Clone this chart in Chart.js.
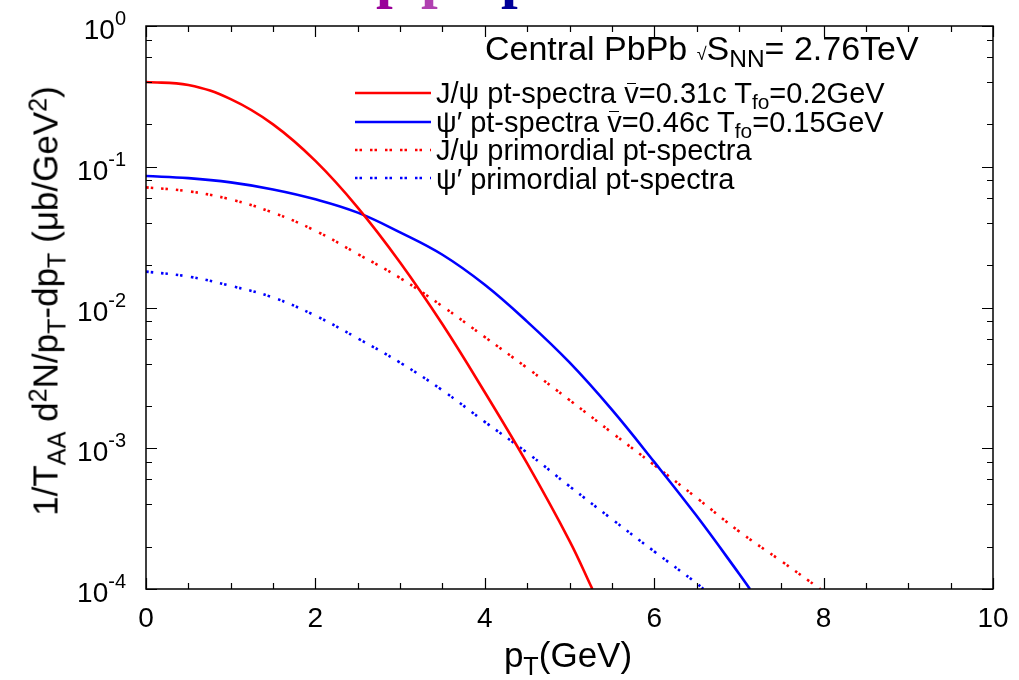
<!DOCTYPE html>
<html>
<head>
<meta charset="utf-8">
<script src="https://cdn.jsdelivr.net/npm/chart.js@4.4.1/dist/chart.umd.min.js"></script>
<style>
body { margin: 0; background: #fff; }
#wrap { position: relative; width: 1019px; height: 680px; overflow: hidden;
        font-family: "Liberation Sans", Arial, sans-serif; color: #000; }
#wrap canvas { position: absolute; left: 0; top: 0; }
.t { position: absolute; white-space: nowrap; line-height: 1; }
.sub { font-size: 0.72em; position: relative; top: 0.3em; }
.sup { font-size: 0.72em; position: relative; top: -0.45em; }
.ov { position: relative; }
.ov::before { content: ''; position: absolute; left: 0.08em; right: 0.08em; top: 0.2em;
              border-top: 1.5px solid #000; }
</style>
</head>
<body>
<div id="wrap">
  <canvas id="grafico" width="1019" height="680"></canvas>

  <div class="t" id="titulo" style="left:485px; top:31px; font-size:34px;">Central PbPb <span style="font-size:18px;">√</span>S<span class="sub">NN</span>= 2.76TeV</div>

  <div class="t" style="left:436px; top:79px; font-size:29px;">J/ψ pt-spectra <span class="ov">v</span>=0.31c T<span class="sub">fo</span>=0.2GeV</div>
  <div class="t" style="left:436px; top:107.5px; font-size:29px;">ψ′ pt-spectra <span class="ov">v</span>=0.46c T<span class="sub">fo</span>=0.15GeV</div>
  <div class="t" style="left:436px; top:136px; font-size:29px;">J/ψ primordial pt-spectra</div>
  <div class="t" style="left:436px; top:164.5px; font-size:29px;">ψ′ primordial pt-spectra</div>

  <div class="t" id="ylabel" style="left:45px; top:301px; font-size:35px; transform: translate(-50%,-50%) rotate(-90deg);">1/T<span class="sub">AA</span> d<span class="sup">2</span>N/p<span class="sub">T</span>-dp<span class="sub">T</span> (μb/GeV<span class="sup">2</span>)</div>

  <div class="t" id="xlabel" style="left:568px; top:637px; font-size:35px; transform: translateX(-50%);">p<span class="sub">T</span>(GeV)</div>
</div>

<script>
// ============================================================
//  DADOS
// ============================================================

// J/psi com fluxo (linha vermelha cheia)
const ptJpsi    = [0, 0.5, 1, 1.5, 2, 2.5, 3, 3.5, 4, 4.5, 5, 5.27];
const jpsiFluxo = [0.400, 0.381, 0.302, 0.200, 0.110, 0.0513, 0.0209, 0.0076, 0.0025, 0.00078, 0.00022, 0.0001];

// psi' com fluxo (linha azul cheia)
const ptPsi2    = [0, 0.5, 1, 1.5, 2, 2.5, 3, 3.5, 4, 4.5, 5, 5.5, 6, 6.5, 7, 7.13];
const psi2Fluxo = [0.0859, 0.0830, 0.0774, 0.0690, 0.0587, 0.0472, 0.0342, 0.0237, 0.0145, 0.00794, 0.00407, 0.00188, 0.0008, 0.000331, 0.000129, 0.0001];

// J/psi primordial (vermelho pontilhado)
const ptJpsiPrim = [0, 0.5, 1, 1.5, 2, 2.5, 3, 3.5, 4, 4.5, 5, 5.5, 6, 6.5, 7, 7.5, 7.96];
const jpsiPrim   = [0.0714, 0.0670, 0.0586, 0.0472, 0.0351, 0.0240, 0.0162, 0.0102, 0.00617, 0.00372, 0.0022, 0.00129, 0.00076, 0.000445, 0.000257, 0.000158, 0.0001];

// psi' primordial (azul pontilhado)
const ptPsi2Prim = [0, 0.5, 1, 1.5, 2, 2.5, 3, 3.5, 4, 4.5, 5, 5.5, 6, 6.5, 6.58];
const psi2Prim   = [0.0180, 0.0166, 0.01426, 0.01178, 0.00875, 0.00604, 0.00406, 0.00258, 0.00154, 0.00093, 0.000537, 0.000314, 0.000185, 0.00011, 0.0001];

// eixos
const xTicksMaiores = [0, 2, 4, 6, 8, 10];
const xTicksMenores = [0.5, 1, 1.5, 2.5, 3, 3.5, 4.5, 5, 5.5, 6.5, 7, 7.5, 8.5, 9, 9.5];
const yDecadas = [0, -1, -2, -3, -4];
const yMenores = [2, 4, 6, 8];

const PONTILHADO = [2.5, 2, 2.5, 8];

// ============================================================
//  UTILITÁRIOS
// ============================================================

function pares(xs, ys) {
    return xs.map((x, i) => ({ x: x, y: ys[i] }));
}

function serie(label, xs, ys, cor, tracejado) {
    return {
        label: label,
        data: pares(xs, ys),
        borderColor: cor,
        borderWidth: 2.6,
        borderDash: tracejado ? PONTILHADO : [],
        pointRadius: 0,
        fill: false,
        tension: 0.4
    };
}

// ============================================================
//  PLUGIN: moldura, ticks internos, rótulos e legenda
// ============================================================

const molduraPlugin = {
    id: 'moldura',
    afterDatasetsDraw(chart) {
        const ctx = chart.ctx;
        const a = chart.chartArea;
        const xs = chart.scales.x;
        const ys = chart.scales.y;

        ctx.save();
        ctx.setLineDash([]);
        ctx.strokeStyle = '#000';
        ctx.lineWidth = 1.5;
        ctx.strokeRect(a.left, a.top, a.right - a.left, a.bottom - a.top);

        ctx.lineWidth = 1.2;
        ctx.beginPath();
        xTicksMaiores.forEach(v => {
            const px = Math.round(xs.getPixelForValue(v)) + 0.5;
            ctx.moveTo(px, a.bottom); ctx.lineTo(px, a.bottom - 11);
            ctx.moveTo(px, a.top); ctx.lineTo(px, a.top + 11);
        });
        xTicksMenores.forEach(v => {
            const px = Math.round(xs.getPixelForValue(v)) + 0.5;
            ctx.moveTo(px, a.bottom); ctx.lineTo(px, a.bottom - 6);
            ctx.moveTo(px, a.top); ctx.lineTo(px, a.top + 6);
        });
        yDecadas.forEach(e => {
            const py = Math.round(ys.getPixelForValue(Math.pow(10, e))) + 0.5;
            ctx.moveTo(a.left, py); ctx.lineTo(a.left + 11, py);
            ctx.moveTo(a.right, py); ctx.lineTo(a.right - 11, py);
            if (e > -4) {
                yMenores.forEach(m => {
                    const pm = Math.round(ys.getPixelForValue(m * Math.pow(10, e - 1))) + 0.5;
                    ctx.moveTo(a.left, pm); ctx.lineTo(a.left + 6, pm);
                    ctx.moveTo(a.right, pm); ctx.lineTo(a.right - 6, pm);
                });
            }
        });
        ctx.stroke();

        // rótulos do eixo x
        ctx.fillStyle = '#000';
        ctx.font = '28px "Liberation Sans", Arial, sans-serif';
        ctx.textAlign = 'center';
        ctx.textBaseline = 'alphabetic';
        xTicksMaiores.forEach(v => {
            ctx.fillText(String(v), xs.getPixelForValue(v), a.bottom + 38);
        });

        // rótulos do eixo y (10 com expoente)
        yDecadas.forEach(e => {
            const py = ys.getPixelForValue(Math.pow(10, e));
            const exp = e === 0 ? '0' : '-' + Math.abs(e);
            ctx.font = '20px "Liberation Sans", Arial, sans-serif';
            ctx.textAlign = 'right';
            const wExp = ctx.measureText(exp).width;
            ctx.fillText(exp, 126, py - 1);
            ctx.font = '28px "Liberation Sans", Arial, sans-serif';
            ctx.fillText('10', 126 - wExp, py + 13);
        });

        // amostras da legenda
        const linhasLegenda = [
            { y: 93, cor: '#ff0000', dash: [] },
            { y: 122, cor: '#0000ff', dash: [] },
            { y: 150, cor: '#ff0000', dash: PONTILHADO },
            { y: 178, cor: '#0000ff', dash: PONTILHADO }
        ];
        linhasLegenda.forEach(l => {
            ctx.beginPath();
            ctx.setLineDash(l.dash);
            ctx.strokeStyle = l.cor;
            ctx.lineWidth = 2.6;
            ctx.moveTo(355, l.y);
            ctx.lineTo(431, l.y);
            ctx.stroke();
        });

        // restos do título do slide, cortados no topo
        ctx.setLineDash([]);
        ctx.font = 'bold 60px "Liberation Serif", serif';
        ctx.textAlign = 'left';
        [['#990099', 376], ['#b040b0', 421], ['#000099', 501]].forEach(p => {
            ctx.fillStyle = p[0];
            ctx.fillText('p', p[1], -4);
        });
        ctx.restore();
    }
};

// ============================================================
//  GRÁFICO
// ============================================================

const ctx = document.getElementById('grafico');

new Chart(ctx, {
    type: 'line',
    data: {
        datasets: [
            serie('J/ψ pt-spectra', ptJpsi, jpsiFluxo, '#ff0000', false),
            serie("ψ' pt-spectra", ptPsi2, psi2Fluxo, '#0000ff', false),
            serie('J/ψ primordial pt-spectra', ptJpsiPrim, jpsiPrim, '#ff0000', true),
            serie("ψ' primordial pt-spectra", ptPsi2Prim, psi2Prim, '#0000ff', true)
        ]
    },
    options: {
        responsive: false,
        animation: false,
        devicePixelRatio: 1,
        layout: { padding: { left: 146, top: 26, right: 26, bottom: 91 } },
        plugins: {
            legend: { display: false },
            tooltip: { enabled: false }
        },
        scales: {
            x: { type: 'linear', min: 0, max: 10, display: false },
            y: { type: 'logarithmic', min: 1e-4, max: 1, display: false }
        }
    },
    plugins: [molduraPlugin]
});
</script>
</body>
</html>
